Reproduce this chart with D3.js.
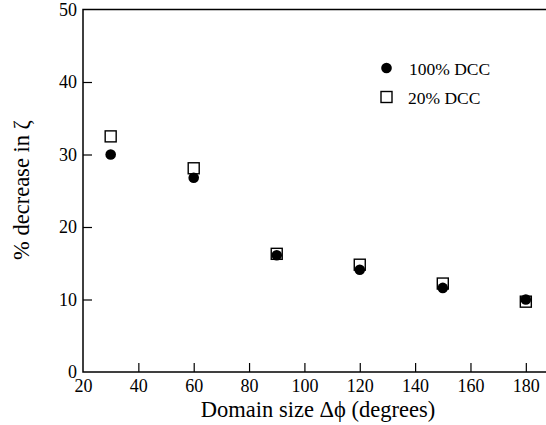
<!DOCTYPE html>
<html>
<head>
<meta charset="utf-8">
<script src="https://cdn.jsdelivr.net/npm/d3@7"></script>
<style>
  body { margin: 0; background: #fff; }
  svg text { font-family: "Liberation Serif", "Times New Roman", Times, "DejaVu Serif", serif; }
</style>
</head>
<body>
<svg id="chart" width="546" height="425"></svg>
<script>
// data
const domainSize = [30, 60, 90, 120, 150, 180];
const dcc100 = [30.0, 26.8, 16.1, 14.1, 11.6, 10.0];
const dcc20 = [32.5, 28.1, 16.3, 14.8, 12.2, 9.7];
const xTicks = [20, 40, 60, 80, 100, 120, 140, 160, 180];
const yTicks = [0, 10, 20, 30, 40, 50];

const svg = d3.select("#chart");

const x = d3.scaleLinear().domain([20, 190]).range([83, 553.5]);
const y = d3.scaleLinear().domain([0, 50]).range([372, 9.5]);

// frame (right edge falls just outside the window)
svg.append("rect")
    .attr("x", x(20))
    .attr("y", y(50))
    .attr("width", x(190) - x(20))
    .attr("height", y(0) - y(50))
    .attr("fill", "none")
    .attr("stroke", "#000")
    .attr("stroke-width", 1.5);

// x axis, ticks pointing inward
const xAxis = svg.append("g")
    .attr("transform", "translate(0," + y(0) + ")")
    .call(d3.axisBottom(x).tickValues(xTicks).tickSizeInner(-9).tickSizeOuter(0));
xAxis.attr("font-family", null).attr("font-size", null);
xAxis.select(".domain").remove();
xAxis.selectAll("line").attr("stroke-width", 1.2);
xAxis.selectAll("text")
    .attr("y", 20)
    .attr("dy", 0)
    .style("font-size", "18px")
    .attr("fill", "#000");

// y axis
const yAxis = svg.append("g")
    .attr("transform", "translate(" + x(20) + ",0)")
    .call(d3.axisLeft(y).tickValues(yTicks).tickSizeInner(-9).tickSizeOuter(0));
yAxis.attr("font-family", null).attr("font-size", null);
yAxis.select(".domain").remove();
yAxis.selectAll("line").attr("stroke-width", 1.2);
yAxis.selectAll("text")
    .attr("x", -6)
    .style("font-size", "18px")
    .attr("fill", "#000");
// no tick marks where the frame already is
yAxis.selectAll(".tick").filter(function(d) { return d === 0 || d === 50; }).select("line").remove();
xAxis.selectAll(".tick").filter(function(d) { return d === 20; }).select("line").remove();

// axis titles
svg.append("text")
    .attr("x", 318)
    .attr("y", 417)
    .attr("text-anchor", "middle")
    .style("font-size", "22.5px")
    .text("Domain size \u0394\u03d5 (degrees)");

svg.append("text")
    .attr("transform", "translate(29,190) rotate(-90)")
    .attr("text-anchor", "middle")
    .style("font-size", "22.5px")
    .text("% decrease in \u03b6");

// 20% DCC: open squares (drawn first, circles on top)
const sq = 11;
svg.append("g").selectAll("rect")
    .data(domainSize)
    .enter().append("rect")
    .attr("x", function(d) { return x(d) - sq / 2; })
    .attr("y", function(d, i) { return y(dcc20[i]) - sq / 2; })
    .attr("width", sq)
    .attr("height", sq)
    .attr("fill", "#fff")
    .attr("stroke", "#000")
    .attr("stroke-width", 1.4);

// 100% DCC: filled circles
svg.append("g").selectAll("circle")
    .data(domainSize)
    .enter().append("circle")
    .attr("cx", function(d) { return x(d); })
    .attr("cy", function(d, i) { return y(dcc100[i]); })
    .attr("r", 5.3)
    .attr("fill", "#000");

// legend
const legend = svg.append("g");
legend.append("circle")
    .attr("cx", 386.5)
    .attr("cy", 68)
    .attr("r", 5.3)
    .attr("fill", "#000");
legend.append("text")
    .attr("x", 409)
    .attr("y", 74.5)
    .style("font-size", "17.5px")
    .text("100% DCC");
legend.append("rect")
    .attr("x", 381)
    .attr("y", 91.5)
    .attr("width", sq)
    .attr("height", sq)
    .attr("fill", "#fff")
    .attr("stroke", "#000")
    .attr("stroke-width", 1.4);
legend.append("text")
    .attr("x", 408)
    .attr("y", 103.5)
    .style("font-size", "17.5px")
    .text("20% DCC");
</script>
</body>
</html>
